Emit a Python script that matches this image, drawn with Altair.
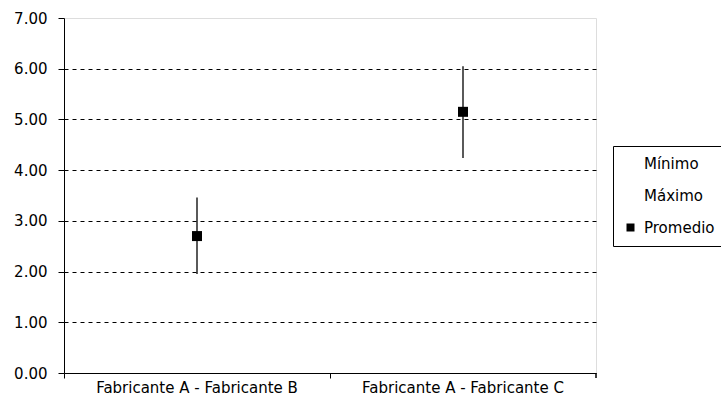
import altair as alt
import pandas as pd

categorias = ["Fabricante A - Fabricante B", "Fabricante A - Fabricante C"]
minimo = [1.95, 4.24]
maximo = [3.46, 6.05]
promedio = [2.70, 5.15]
series = ["Mínimo", "Máximo", "Promedio"]
y_ticks = [0, 1, 2, 3, 4, 5, 6, 7]

df = pd.DataFrame({
    "categoria": categorias,
    "minimo": minimo,
    "maximo": maximo,
    "promedio": promedio,
    "serie": ["Promedio"] * len(categorias),
})

FONT = "DejaVu Sans"
FS = 15

x_enc = alt.X(
    "categoria:N",
    sort=categorias,
    scale=alt.Scale(paddingInner=0, paddingOuter=0),
    axis=alt.Axis(
        title=None, labelAngle=0, bandPosition=0, labelLimit=0,
        domainColor="black", tickColor="black", tickSize=5,
        labelFont=FONT, labelFontSize=FS, labelColor="black",
        labelPadding=2, labelBaseline="top", grid=False,
    ),
)
y_scale = alt.Scale(domain=[0, 7], nice=False)
y_axis = alt.Axis(
    title=None, values=y_ticks, format=".2f",
    domainColor="black", tickColor="black", tickSize=6,
    labelFont=FONT, labelFontSize=FS, labelColor="black", labelPadding=11,
    grid=True, gridColor="black", gridDash=[4, 4], gridWidth=1,
    gridOpacity={"condition": {"test": "datum.value == 0 || datum.value == 7", "value": 0}, "value": 1},
)

base = alt.Chart(df)

bars = base.mark_rule(color="black", strokeWidth=1.3).encode(
    x=x_enc,
    y=alt.Y("minimo:Q", scale=y_scale, axis=y_axis),
    y2="maximo:Q",
)

points = base.mark_point(shape="square", filled=True, size=100, opacity=1).encode(
    x=x_enc,
    y=alt.Y("promedio:Q", scale=y_scale, axis=y_axis),
    color=alt.Color(
        "serie:N",
        scale=alt.Scale(domain=series, range=["rgba(0,0,0,0)", "rgba(0,0,0,0)", "black"]),
        legend=alt.Legend(
            title=None, orient="none", legendX=549, legendY=128,
            strokeColor="black", fillColor="white", padding=10,
            labelFont=FONT, labelFontSize=FS, labelColor="black", labelLimit=0,
            symbolType="square", symbolSize=64, symbolStrokeWidth=0,
            rowPadding=16, labelOffset=6, cornerRadius=0,
        ),
    ),
)

end_tick = base.mark_rule(color="black").encode(
    x=alt.value(532), y=alt.value(355), y2=alt.value(360)
)

chart = alt.layer(bars, points, end_tick).properties(
    width=532, height=355,
    autosize=alt.AutoSizeParams(type="none"),
    padding={"left": 64, "top": 18, "right": 125, "bottom": 38},
).configure_view(
    stroke="#808080", strokeWidth=1
).configure(background="white")

chart.save("out.html", embed_options={"renderer": "svg", "actions": False})
